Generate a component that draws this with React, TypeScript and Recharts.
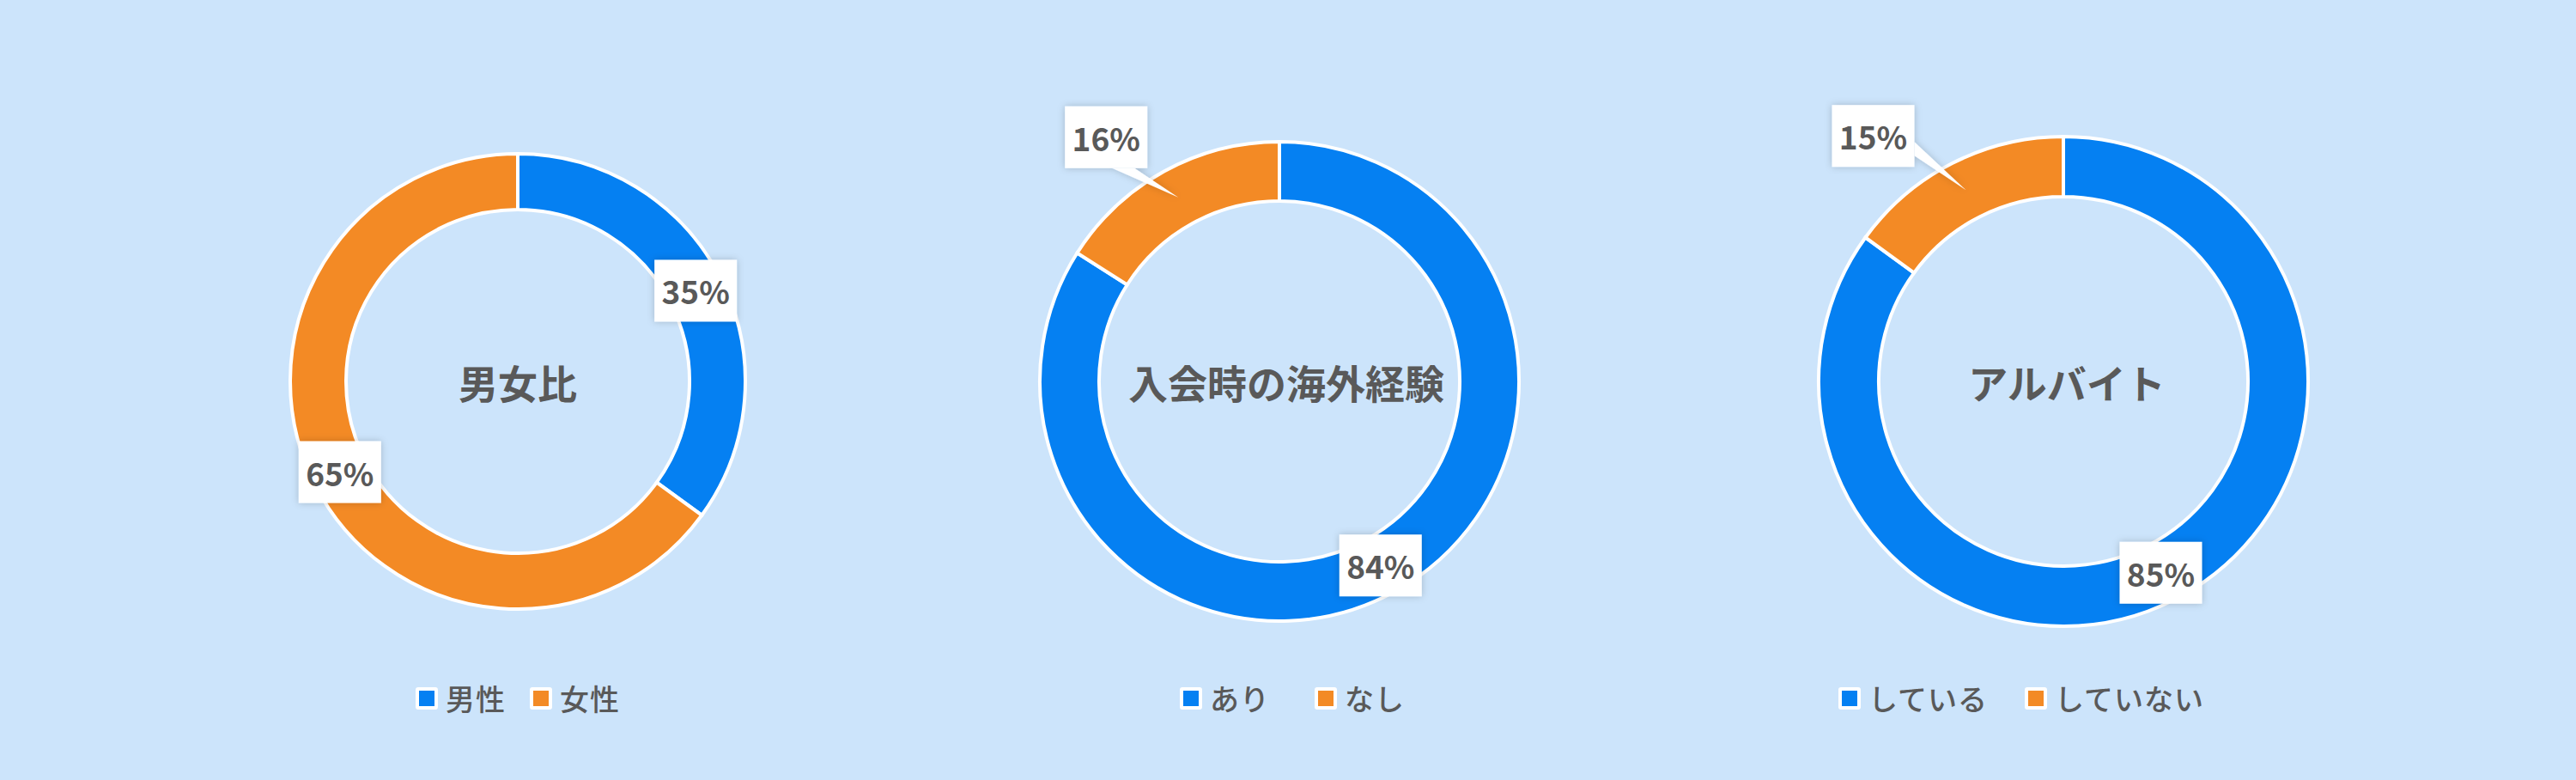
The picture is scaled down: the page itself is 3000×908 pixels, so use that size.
import React from "react";
import { Label, Legend, Pie, PieChart } from "recharts";

const genderNames = ["男性", "女性"];
const genderValues = [35, 65];

const abroadNames = ["あり", "なし"];
const abroadValues = [84, 16];

const jobNames = ["している", "していない"];
const jobValues = [85, 15];

const titles = ["男女比", "入会時の海外経験", "アルバイト"];

const COLORS = ["#0580f2", "#f38a25"];
const BG = "#cce4fb";
const TEXT = "#595959";
const FONT = '"Noto Sans CJK JP", "Noto Sans", sans-serif';

type Callout = { index: number; dx: number; dy: number };

type DonutLayout = {
  left: number;
  inner: number;
  outer: number;
  legendShift: number;
  legendGap: number;
  titleDx: number;
  callout: Callout | null;
};

const CHART_W = 880;
const CHART_H = 908;
const CX = 440;
const CY = 444;

const layouts: DonutLayout[] = [
  { left: 163, inner: 200, outer: 265, legendShift: 0, legendGap: 28, titleDx: 0, callout: null },
  { left: 1050, inner: 210, outer: 279, legendShift: 15, legendGap: 52, titleDx: 8, callout: { index: 1, dx: -84, dy: -70 } },
  { left: 1963, inner: 215, outer: 285, legendShift: -49, legendGap: 43, titleDx: 4, callout: { index: 1, dx: -108, dy: -63 } },
];

function makeLabel(chartIdx: number, callout: Callout | null) {
  return (props: any) => {
    const { cx, cy, midAngle, innerRadius, outerRadius, value, index } = props;
    const rad = Math.PI / 180;
    const r = (innerRadius + outerRadius) / 2;
    const px = cx + r * Math.cos(-midAngle * rad);
    const py = cy + r * Math.sin(-midAngle * rad);
    const w = 96;
    const h = 72;
    const isCallout = callout != null && callout.index === index;
    const bx = isCallout ? px + callout!.dx : px;
    const by = isCallout ? py + callout!.dy : py;

    let pointer = null;
    if (isCallout) {
      const ddx = px - bx;
      const ddy = py - by;
      let a: number[];
      let b: number[];
      if (Math.abs(ddx) > Math.abs(ddy) * 1.5) {
        const ex = bx + (Math.sign(ddx) * w) / 2;
        a = [ex, by + Math.sign(ddy) * 7];
        b = [ex, by + Math.sign(ddy) * 23];
      } else {
        const ey = by + (Math.sign(ddy) * h) / 2;
        a = [bx + Math.sign(ddx) * 7, ey];
        b = [bx + Math.sign(ddx) * 33, ey];
      }
      pointer = <polygon points={`${a.join(",")} ${px},${py} ${b.join(",")}`} fill="#fff" />;
    }

    const id = `lbl-shadow-${chartIdx}-${index}`;
    return (
      <g>
        <defs>
          <filter id={id} x="-50%" y="-50%" width="200%" height="200%">
            <feDropShadow dx="0" dy="0" stdDeviation="4" floodColor="#000" floodOpacity="0.2" />
          </filter>
        </defs>
        <g filter={`url(#${id})`}>
          {pointer}
          <rect x={bx - w / 2} y={by - h / 2} width={w} height={h} fill="#fff" />
        </g>
        <text
          x={bx}
          y={by}
          textAnchor="middle"
          dominantBaseline="central"
          fill={TEXT}
          fontSize={37}
          fontWeight={700}
          fontFamily={FONT}
        >
          {`${value}%`}
        </text>
      </g>
    );
  };
}

function LegendRow({ names, gap, shift }: { names: string[]; gap: number; shift: number }) {
  return (
    <div
      style={{
        display: "flex",
        justifyContent: "center",
        alignItems: "center",
        gap,
        transform: `translateX(${shift}px)`,
        fontFamily: FONT,
        fontSize: 34,
        fontWeight: 500,
        color: TEXT,
        letterSpacing: 1,
      }}
    >
      {names.map((n, i) => (
        <div key={n} style={{ display: "flex", alignItems: "center", gap: 9 }}>
          <div style={{ background: "#fff", padding: 4, borderRadius: 3, display: "flex" }}>
            <div style={{ width: 18, height: 18, background: COLORS[i] }} />
          </div>
          <span>{n}</span>
        </div>
      ))}
    </div>
  );
}

function Donut({ idx, names, values, title }: { idx: number; names: string[]; values: number[]; title: string }) {
  const lay = layouts[idx];
  const data = names.map((name, i) => ({ name, value: values[i], fill: COLORS[i] }));
  return (
    <div style={{ position: "absolute", left: lay.left, top: 0, width: CHART_W, height: CHART_H }}>
      <PieChart width={CHART_W} height={CHART_H} margin={{ top: 0, right: 0, bottom: 0, left: 0 }}>
        <Pie
          data={data}
          dataKey="value"
          nameKey="name"
          cx={CX}
          cy={CY}
          innerRadius={lay.inner}
          outerRadius={lay.outer}
          startAngle={90}
          endAngle={-270}
          stroke="#fff"
          strokeWidth={4}
          label={makeLabel(idx, lay.callout)}
          labelLine={false}
          isAnimationActive={false}
        >
          <Label
            position="center"
            content={(p: any) => {
              const vb = p.viewBox || {};
              return (
                <text
                  x={(vb.cx ?? CX) + lay.titleDx}
                  y={vb.cy ?? CY}
                  textAnchor="middle"
                  dominantBaseline="central"
                  fill={TEXT}
                  fontSize={46}
                  fontWeight={700}
                  fontFamily={FONT}
                >
                  {title}
                </text>
              );
            }}
          />
        </Pie>
        <Legend
          verticalAlign="bottom"
          wrapperStyle={{ left: 0, top: 788, bottom: "auto", width: CHART_W }}
          content={() => <LegendRow names={names} gap={lay.legendGap} shift={lay.legendShift} />}
        />
      </PieChart>
    </div>
  );
}

export default function App() {
  return (
    <div
      style={{
        position: "absolute",
        left: 0,
        top: 0,
        width: 3000,
        height: 908,
        background: BG,
        overflow: "hidden",
      }}
    >
      <Donut idx={0} names={genderNames} values={genderValues} title={titles[0]} />
      <Donut idx={1} names={abroadNames} values={abroadValues} title={titles[1]} />
      <Donut idx={2} names={jobNames} values={jobValues} title={titles[2]} />
    </div>
  );
}
